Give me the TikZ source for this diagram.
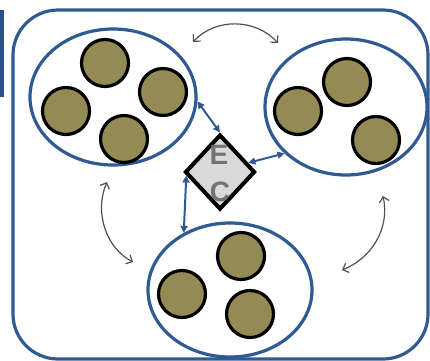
\documentclass[tikz,border=0pt]{standalone}
\usepackage{fontspec}
\setmainfont{Liberation Sans}
\usetikzlibrary{shapes.geometric,arrows.meta}
\definecolor{frameblue}{HTML}{2F5A92}
\definecolor{barblue}{HTML}{2A5088}
\definecolor{olive}{HTML}{948A54}
\definecolor{dgray}{HTML}{D9D9D9}
\definecolor{tgray}{HTML}{737373}
\definecolor{cgray}{HTML}{505050}
\tikzset{
  group/.style={draw=frameblue,line width=3.2pt,ellipse,minimum width=166pt,minimum height=136pt,inner sep=0pt},
  ball/.style={draw=black,line width=3.2pt,fill=olive,circle,minimum size=47pt,inner sep=0pt},
  core/.style={draw=black,line width=4pt,fill=dgray,diamond,minimum width=70pt,minimum height=75pt,inner sep=0pt},
  letter/.style={text=tgray,font=\fontsize{28}{28}\selectfont\bfseries,inner sep=0pt},
  link/.style={draw=frameblue,line width=2pt,{Triangle[length=7pt,width=7pt]}-{Triangle[length=7pt,width=7pt]}},
  swap/.style={draw=cgray,line width=1.2pt,{Straight Barb[length=5pt,width=10pt]}-{Straight Barb[length=5pt,width=10pt]}}
}
\begin{document}
\begin{tikzpicture}[x=1pt,y=-1pt]
\useasboundingbox (0,0) rectangle (430,360);
\clip (0,0) rectangle (430,360);
% outer frame and bar
\draw[frameblue,line width=3.2pt,rounded corners=45pt] (13,10) rectangle (428,359);
\fill[barblue] (0,10) rectangle (4,97);
% groups
\node[group] (tl) at (113,97) {};
\node[group,minimum width=162pt] (tr) at (346,107) {};
\node[group,minimum width=164pt,minimum height=134pt] (bt) at (230,290) {};
% balls
\node[ball] (tl1) at (105,63) {};
\node[ball] (tl2) at (163,92) {};
\node[ball] (tl3) at (66,111) {};
\node[ball] (tl4) at (124,139) {};
\node[ball] (tr1) at (298,111) {};
\node[ball] (tr2) at (347,82) {};
\node[ball] (tr3) at (376,140) {};
\node[ball] (bt1) at (182,294) {};
\node[ball] (bt2) at (241,256) {};
\node[ball] (bt3) at (250,314) {};
% core
\node[core] (d) at (220,172) {};
\node[letter] (le) at (219,155) {E};
\node[letter] (lc) at (220,192) {C};
% blue links
\draw[link] (tl.-3) -- (d.north);
\draw[link] (tr.-143) -- (d.18);
\draw[link] (d.186) -- (bt.129);
% gray exchange arrows
\coordinate (a1) at (193,42);
\coordinate (a2) at (278,43);
\coordinate (b1) at (107,182);
\coordinate (b2) at (133,262);
\coordinate (c1) at (383,196);
\coordinate (c2) at (342,270);
\draw[swap] (a1) .. controls (215,18) and (255,18) .. (a2);
\draw[swap] (b1) .. controls (94,212) and (106,248) .. (b2);
\draw[swap] (c1) .. controls (390,228) and (372,258) .. (c2);
\end{tikzpicture}
\end{document}
